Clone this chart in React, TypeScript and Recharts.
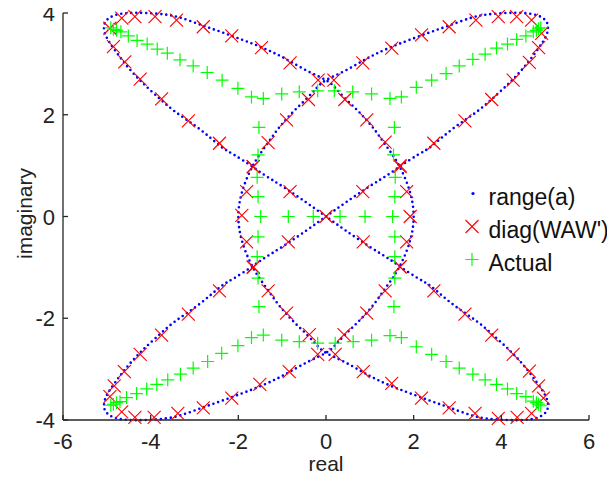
import React from 'react';
import { ComposedChart, Line, Scatter, XAxis, YAxis, Legend, Label } from 'recharts';

const FONT = '"Liberation Sans", Arial, Helvetica, sans-serif';
const AXIS_COLOR = '#262626';

const xTicks = [-6, -4, -2, 0, 2, 4, 6];
const yTicks = [-4, -2, 0, 2, 4];

// range(a): closed curve traced in order, split into pieces
const rangeUL: [number, number][] = [[0,0],[-0.44,0.27],[-0.97,0.58],[-1.43,0.83],[-1.68,0.98],[-2.11,1.22],[-2.42,1.39],[-2.90,1.73],[-3.44,2.06],[-3.89,2.39],[-4.27,2.70],[-4.58,3.00],[-4.80,3.25],[-4.96,3.45],[-5.05,3.62],[-5.06,3.76],[-4.99,3.87],[-4.80,3.96],[-4.50,4.0],[-4.12,4.0],[-3.67,3.97],[-3.29,3.90],[-2.83,3.76],[-2.37,3.62],[-1.90,3.47],[-1.51,3.34],[-1.15,3.20],[-0.82,3.05],[-0.40,2.85]];
const rangeArcR: [number, number][] = [[0,2.68],[0.22,2.52],[0.45,2.31],[0.70,2.10],[0.93,1.89],[1.14,1.67],[1.33,1.44],[1.52,1.21],[1.68,0.98],[1.82,0.72],[1.92,0.47],[1.98,0.23],[2.00,0],[1.98,-0.23],[1.92,-0.47],[1.82,-0.72],[1.68,-0.98],[1.52,-1.21],[1.33,-1.44],[1.14,-1.67],[0.93,-1.89],[0.70,-2.10],[0.45,-2.31],[0.22,-2.52],[0,-2.68]];
const rangeLL: [number, number][] = [[-0.40,-2.85],[-0.82,-3.05],[-1.15,-3.20],[-1.51,-3.34],[-1.90,-3.47],[-2.37,-3.62],[-2.83,-3.76],[-3.29,-3.90],[-3.67,-3.97],[-4.12,-4.0],[-4.50,-4.0],[-4.80,-3.96],[-4.99,-3.87],[-5.06,-3.76],[-5.05,-3.62],[-4.96,-3.45],[-4.80,-3.25],[-4.58,-3.00],[-4.27,-2.70],[-3.89,-2.39],[-3.44,-2.06],[-2.90,-1.73],[-2.42,-1.39],[-2.11,-1.22],[-1.68,-0.98],[-1.43,-0.83],[-0.97,-0.58],[-0.44,-0.27],[0,0]];
const rangeUR: [number, number][] = [[0.44,0.27],[0.97,0.58],[1.43,0.83],[1.68,0.98],[2.11,1.22],[2.42,1.39],[2.90,1.73],[3.44,2.06],[3.89,2.39],[4.27,2.70],[4.58,3.00],[4.80,3.25],[4.96,3.45],[5.05,3.62],[5.06,3.76],[4.99,3.87],[4.80,3.96],[4.50,4.0],[4.12,4.0],[3.67,3.97],[3.29,3.90],[2.83,3.76],[2.37,3.62],[1.90,3.47],[1.51,3.34],[1.15,3.20],[0.82,3.05],[0.40,2.85],[0,2.68]];
const rangeArcL: [number, number][] = [[-0.22,2.52],[-0.45,2.31],[-0.70,2.10],[-0.93,1.89],[-1.14,1.67],[-1.33,1.44],[-1.52,1.21],[-1.68,0.98],[-1.82,0.72],[-1.92,0.47],[-1.98,0.23],[-2.00,0],[-1.98,-0.23],[-1.92,-0.47],[-1.82,-0.72],[-1.68,-0.98],[-1.52,-1.21],[-1.33,-1.44],[-1.14,-1.67],[-0.93,-1.89],[-0.70,-2.10],[-0.45,-2.31],[-0.22,-2.52],[0,-2.68]];
const rangeLR: [number, number][] = [[0.40,-2.85],[0.82,-3.05],[1.15,-3.20],[1.51,-3.34],[1.90,-3.47],[2.37,-3.62],[2.83,-3.76],[3.29,-3.90],[3.67,-3.97],[4.12,-4.0],[4.50,-4.0],[4.80,-3.96],[4.99,-3.87],[5.06,-3.76],[5.05,-3.62],[4.96,-3.45],[4.80,-3.25],[4.58,-3.00],[4.27,-2.70],[3.89,-2.39],[3.44,-2.06],[2.90,-1.73],[2.42,-1.39],[2.11,-1.22],[1.68,-0.98],[1.43,-0.83],[0.97,-0.58],[0.44,-0.27],[0,0]];

// diag(WAW')
const diagTopLeft: [number, number][] = [[-4.93,3.70],[-4.66,3.90],[-4.36,3.93],[-3.90,3.93],[-3.41,3.86],[-2.80,3.73],[-2.15,3.55],[-1.47,3.32],[-0.82,3.02],[-0.18,2.68]];
const diagTopRight: [number, number][] = [[0.18,2.68],[0.84,3.02],[1.50,3.31],[2.18,3.57],[2.81,3.73],[3.42,3.86],[3.93,3.93],[4.35,3.93],[4.69,3.86],[4.92,3.60]];
const diagBottomLeft: [number, number][] = [[-4.93,-3.54],[-4.66,-3.84],[-4.36,-3.95],[-3.92,-3.95],[-3.38,-3.87],[-2.80,-3.76],[-2.15,-3.57],[-1.51,-3.30],[-0.84,-3.05],[-0.19,-2.71]];
const diagBottomRight: [number, number][] = [[0.21,-2.71],[0.85,-3.05],[1.50,-3.28],[2.18,-3.57],[2.81,-3.76],[3.40,-3.87],[3.93,-3.97],[4.36,-3.95],[4.69,-3.87],[4.96,-3.57]];
const diagDiagonals: [number, number][] = [
  [-4.85,3.34],[-4.59,3.04],[-4.24,2.70],[-3.75,2.31],[-3.14,1.88],[-2.43,1.44],[-1.66,0.98],[-0.82,0.49],
  [4.85,3.32],[4.64,3.03],[4.27,2.68],[3.78,2.30],[3.17,1.88],[2.46,1.44],[1.69,1.00],[0.84,0.49],
  [-4.83,-3.33],[-4.60,-3.05],[-4.24,-2.71],[-3.75,-2.33],[-3.14,-1.92],[-2.43,-1.46],[-1.66,-1.00],[-0.86,-0.50],
  [4.85,-3.33],[4.64,-3.04],[4.27,-2.71],[3.78,-2.33],[3.17,-1.92],[2.46,-1.46],[1.69,-0.99],[0.85,-0.50],
  [0,0],
];
const diagInner: [number, number][] = [
  [-0.40,2.30],[-0.90,1.90],[-1.32,1.45],[-1.66,0.98],[-1.81,0.49],[-1.92,0.02],
  [0.43,2.30],[0.93,1.90],[1.35,1.46],[1.69,0.98],[1.84,0.49],[1.92,0.0],
  [-0.38,-2.32],[-0.90,-1.90],[-1.32,-1.46],[-1.66,-0.99],[-1.81,-0.50],
  [0.41,-2.32],[0.93,-1.90],[1.35,-1.46],[1.69,-0.99],[1.84,-0.50],
];

// Actual
const actualUpper: [number, number][] = [[-4.91,3.71],[-4.85,3.68],[-4.78,3.66],[-4.68,3.63],[-4.51,3.55],[-4.31,3.46],[-4.08,3.39],[-3.85,3.29],[-3.62,3.21],[-3.33,3.08],[-3.03,2.96],[-2.71,2.83],[-2.37,2.68],[-2.01,2.52],[-1.70,2.35],[-1.43,2.32],[-1.01,2.41],[-0.61,2.45],[-0.19,2.47],[0.19,2.47],[0.61,2.45],[1.04,2.41],[1.46,2.32],[1.72,2.35],[2.06,2.54],[2.41,2.68],[2.74,2.81],[3.04,2.96],[3.35,3.09],[3.63,3.19],[3.89,3.31],[4.14,3.39],[4.35,3.48],[4.56,3.55],[4.73,3.63],[4.80,3.66],[4.85,3.69],[4.90,3.71]];
const actualLower: [number, number][] = [[-4.91,-3.71],[-4.85,-3.69],[-4.78,-3.66],[-4.70,-3.64],[-4.55,-3.56],[-4.32,-3.48],[-4.09,-3.39],[-3.86,-3.30],[-3.61,-3.21],[-3.32,-3.10],[-3.03,-2.98],[-2.70,-2.85],[-2.38,-2.69],[-2.01,-2.54],[-1.70,-2.38],[-1.43,-2.33],[-1.01,-2.43],[-0.61,-2.46],[-0.19,-2.49],[0.21,-2.49],[0.62,-2.46],[1.04,-2.43],[1.46,-2.34],[1.72,-2.38],[2.06,-2.56],[2.41,-2.71],[2.74,-2.85],[3.04,-2.98],[3.35,-3.10],[3.63,-3.21],[3.89,-3.30],[4.14,-3.39],[4.35,-3.48],[4.56,-3.54],[4.73,-3.63],[4.80,-3.66],[4.85,-3.69],[4.90,-3.72]];
const actualColumns: [number, number][] = [
  [-1.53,1.75],[-1.55,1.21],[-1.57,0.77],[-1.55,0.39],[-1.55,-0.40],[-1.57,-0.79],[-1.55,-1.21],[-1.53,-1.77],
  [1.56,1.75],[1.54,1.21],[1.58,0.77],[1.57,0.39],[1.57,-0.40],[1.57,-0.79],[1.57,-1.21],[1.55,-1.77],
];
const actualMiddle: [number, number][] = [[-1.49,0.0],[-0.86,0.0],[-0.29,0.0],[0.32,0.0],[0.89,0.0],[1.52,0.0]];

const toPts = (a: [number, number][]) => a.map(([x, y]) => ({ x, y }));
const rangeData = toPts([...rangeUL, ...rangeArcR, ...rangeLL, ...rangeUR, ...rangeArcL, ...rangeLR]);
const diagData = toPts([...diagTopLeft, ...diagTopRight, ...diagBottomLeft, ...diagBottomRight, ...diagDiagonals, ...diagInner]);
const actualData = toPts([...actualUpper, ...actualLower, ...actualColumns, ...actualMiddle]);

const XMark = (props: any) => {
  const { cx, cy } = props;
  const s = 6.5;
  return <path d={`M${cx - s},${cy - s}L${cx + s},${cy + s}M${cx - s},${cy + s}L${cx + s},${cy - s}`} stroke="#ff0000" strokeWidth={1.1} fill="none" />;
};
const PlusMark = (props: any) => {
  const { cx, cy } = props;
  const s = 6.5;
  return <path d={`M${cx - s},${cy}L${cx + s},${cy}M${cx},${cy - s}L${cx},${cy + s}`} stroke="#00ff00" strokeWidth={1.2} fill="none" />;
};

const XTick = (props: any) => {
  const { x, y, payload } = props;
  return (
    <g>
      <line x1={x} x2={x} y1={y} y2={y - 5} stroke={AXIS_COLOR} strokeWidth={1.3} />
      <text x={x} y={y + 29} textAnchor="middle" fontSize={22} fontFamily={FONT} fill="#222">{payload.value}</text>
    </g>
  );
};
const YTick = (props: any) => {
  const { x, y, payload } = props;
  return (
    <g>
      <line x1={x} x2={x + 5} y1={y} y2={y} stroke={AXIS_COLOR} strokeWidth={1.3} />
      <text x={x - 8} y={y + 8} textAnchor="end" fontSize={22} fontFamily={FONT} fill="#222">{payload.value}</text>
    </g>
  );
};

const XLabel = (props: any) => {
  const vb = props.viewBox || { x: 55, y: 420, width: 526, height: 30 };
  return <text x={vb.x + vb.width / 2} y={vb.y + 51} textAnchor="middle" fontSize={21} fontFamily={FONT} fill="#222">real</text>;
};
const YLabel = (props: any) => {
  const vb = props.viewBox || { x: 5, y: 13, width: 50, height: 407 };
  const cx = vb.x + 19;
  const cy = vb.y + vb.height / 2 - 3;
  return <text x={cx} y={cy} transform={`rotate(-90 ${cx} ${cy})`} textAnchor="middle" fontSize={21} fontFamily={FONT} fill="#222">imaginary</text>;
};

const legendItems = [
  { name: 'range(a)', kind: 'dot' },
  { name: "diag(WAW')", kind: 'x' },
  { name: 'Actual', kind: 'plus' },
];

const renderLegend = () => (
  <svg width={152} height={105} style={{ display: 'block', overflow: 'visible' }}>
    {legendItems.map((it, i) => {
      const my = 15.5 + i * 33;
      const ty = 27 + i * 33;
      return (
        <g key={it.name}>
          {it.kind === 'dot' && <circle cx={10} cy={my} r={1.6} fill="#0000ff" />}
          {it.kind === 'x' && <XMark cx={9} cy={my} />}
          {it.kind === 'plus' && <PlusMark cx={9} cy={my} />}
          <text x={25.5} y={ty} fontSize={23} fontFamily={FONT} fill="#111">{it.name}</text>
        </g>
      );
    })}
  </svg>
);

export default function App() {
  return (
    <div style={{ width: 607, height: 483, marginTop: -8 }}>
      <ComposedChart width={607} height={483} margin={{ top: 13, right: 26, bottom: 33, left: 5 }}>
        <XAxis
          type="number"
          dataKey="x"
          domain={[-6, 6]}
          ticks={xTicks}
          interval={0}
          tickSize={0}
          tickMargin={0}
          tickLine={false}
          tick={<XTick />}
          axisLine={{ stroke: AXIS_COLOR, strokeWidth: 1.3 }}
          height={30}
        >
          <Label content={<XLabel />} />
        </XAxis>
        <YAxis
          type="number"
          dataKey="y"
          domain={[-4, 4]}
          ticks={yTicks}
          interval={0}
          tickSize={0}
          tickMargin={0}
          tickLine={false}
          tick={<YTick />}
          axisLine={{ stroke: AXIS_COLOR, strokeWidth: 1.3 }}
          width={50}
        >
          <Label content={<YLabel />} />
        </YAxis>
        <Line
          data={rangeData}
          dataKey="y"
          type="natural"
          stroke="#0000ff"
          strokeWidth={2.6}
          strokeDasharray="0 5"
          strokeLinecap="round"
          dot={false}
          activeDot={false}
          isAnimationActive={false}
          name="range(a)"
        />
        <Scatter data={diagData} shape={<XMark />} isAnimationActive={false} name="diag(WAW')" />
        <Scatter data={actualData} shape={<PlusMark />} isAnimationActive={false} name="Actual" />
        <Legend
          layout="vertical"
          align="center"
          verticalAlign="middle"
          content={renderLegend}
          wrapperStyle={{ left: 455, top: 178, width: 152, height: 105 }}
        />
      </ComposedChart>
    </div>
  );
}
